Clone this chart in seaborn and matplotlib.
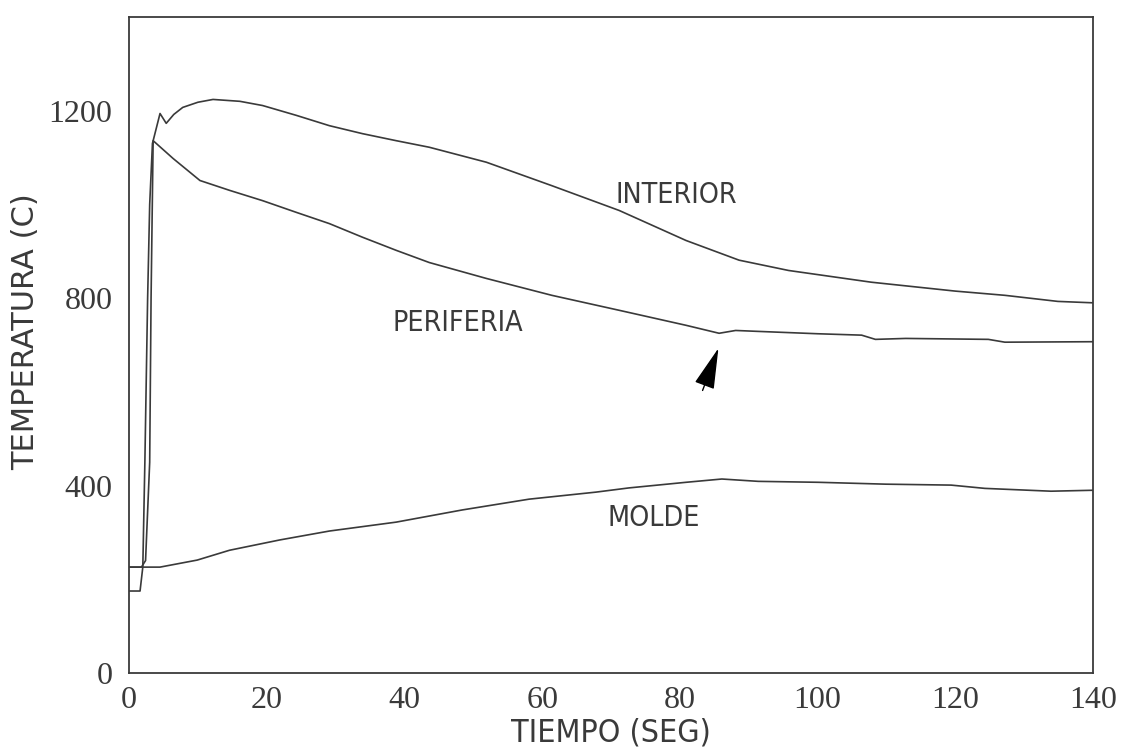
import matplotlib
matplotlib.use("Agg")
import matplotlib.pyplot as plt
import seaborn as sns
import pandas as pd
from matplotlib.ticker import MultipleLocator

# Thermocouple readings during casting: time (s) vs temperature (C)
t_interior = [0, 1.6, 2.0, 2.3, 2.7, 3.0, 3.4, 4.5, 5.4, 6.5, 7.8, 10.0, 12.2, 16.1, 19.4,
              24.3, 29.1, 33.9, 38.8, 43.6, 51.9, 61.4, 71.2, 80.9, 88.6, 95.8,
              107.8, 120.0, 127.2, 134.9, 140.0]
temp_interior = [175, 175, 226, 450, 800, 1000, 1130, 1194, 1173, 1192, 1207, 1218, 1224, 1220, 1211,
                 1190, 1168, 1151, 1136, 1122, 1090, 1040, 987, 923, 881, 859,
                 834, 815, 806, 793, 790]

t_periferia = [0, 1.8, 2.4, 3.0, 3.2, 3.5, 6.4, 10.3, 14.6, 19.4, 24.3, 29.1, 33.9,
               38.8, 43.6, 51.9, 61.4, 71.2, 80.9, 85.7, 88.1, 91.4, 100.0, 106.4,
               108.4, 112.8, 124.8, 127.2, 140.0]
temp_periferia = [226, 226, 240, 450, 800, 1136, 1098, 1051, 1030, 1008, 983, 959, 930,
                  902, 876, 842, 806, 774, 742, 725, 731, 729, 724, 721,
                  712, 714, 712, 706, 707]

t_molde = [0, 4.5, 9.9, 14.6, 21.9, 29.1, 38.8, 48.4, 58.1, 67.8, 72.6, 80.9, 86.1,
           91.4, 100.1, 109.9, 119.4, 124.3, 133.9, 140.0]
temp_molde = [226, 226, 241, 262, 284, 303, 322, 348, 371, 386, 395, 407, 414,
              409, 407, 403, 401, 394, 388, 390]

series_names = ["INTERIOR", "PERIFERIA", "MOLDE"]
label_x = [79.5, 47.8, 76.2]
label_y = [1021, 746, 330]

x_ticks = [0, 20, 40, 60, 80, 100, 120, 140]
y_ticks = [0, 400, 800, 1200]

df = pd.concat([
    pd.DataFrame({"t": t_interior, "T": temp_interior, "serie": "INTERIOR"}),
    pd.DataFrame({"t": t_periferia, "T": temp_periferia, "serie": "PERIFERIA"}),
    pd.DataFrame({"t": t_molde, "T": temp_molde, "serie": "MOLDE"}),
])

sns.set_style("white")
plt.rcParams["font.family"] = ["DejaVu Sans"]
plt.rcParams["font.stretch"] = "condensed"

ink = "#3a3a3a"
fig = plt.figure(figsize=(11.24, 7.54), dpi=100)
ax = fig.add_axes([0.1148, 0.1074, 0.8576, 0.8701])

sns.lineplot(data=df, x="t", y="T", hue="serie", units="serie", estimator=None,
             sort=False, palette={s: ink for s in series_names}, linewidth=1.2,
             legend=False, ax=ax)

ax.set_xlim(0, 140)
ax.set_ylim(0, 1400)

for name, lx, ly in zip(series_names, label_x, label_y):
    ax.text(lx, ly, name, ha="center", va="center", fontsize=20.5, color=ink,
            fontstretch="condensed")

# arrow pointing at the change of slope on the PERIFERIA curve
ax.annotate("", xy=(85.6, 693), xytext=(83.3, 603),
            arrowprops=dict(arrowstyle="-|>,head_length=2.6,head_width=0.65",
                            mutation_scale=10, color="black", lw=1.0,
                            shrinkA=0, shrinkB=0))

ax.set_xticks(x_ticks)
ax.set_yticks(y_ticks)
ax.yaxis.set_minor_locator(MultipleLocator(200))
serif = ["Liberation Serif", "DejaVu Serif"]
ax.set_xticklabels([str(v) for v in x_ticks], family=serif, fontsize=23, color=ink,
                   fontstretch="normal")
ax.set_yticklabels([str(v) for v in y_ticks], family=serif, fontsize=23, color=ink,
                   fontstretch="normal")
ax.tick_params(axis="x", direction="in", length=8, width=1.0, color=ink, pad=9)
ax.tick_params(axis="y", which="both", direction="out", length=8, width=1.0, color=ink, pad=4)

for sp in ax.spines.values():
    sp.set_color(ink)
    sp.set_linewidth(1.3)

ax.set_xlabel("TIEMPO (SEG)", fontsize=23, color=ink, labelpad=2, fontstretch="condensed")
ax.set_ylabel("TEMPERATURA (C)", fontsize=22, color=ink, fontstretch="normal")
ax.yaxis.set_label_coords(-0.092, 0.52)

fig.savefig("out.png", dpi=100, facecolor="white")
